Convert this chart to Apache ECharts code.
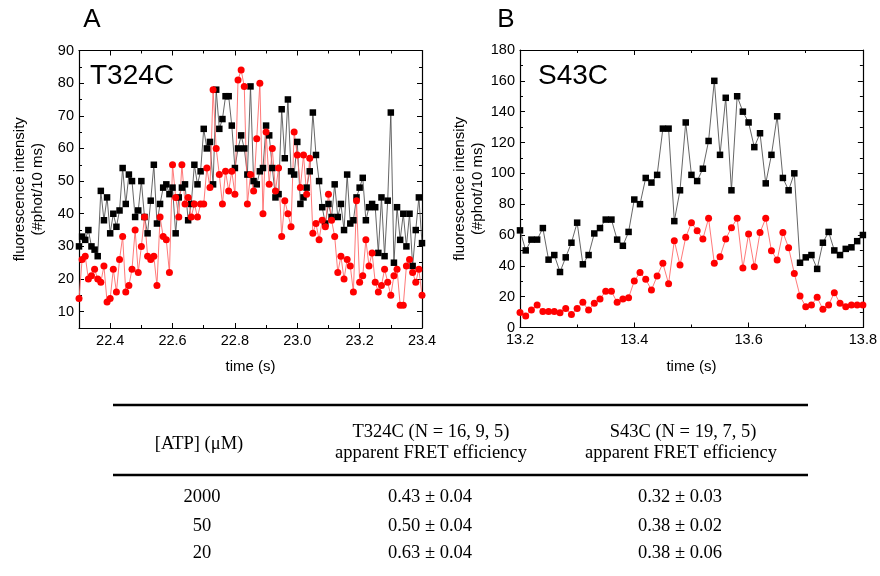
<!DOCTYPE html>
<html><head><meta charset="utf-8">
<script src="https://cdn.jsdelivr.net/npm/echarts@6/dist/echarts.min.js"></script>
<style>html,body{margin:0;padding:0;background:#fff}#c{width:880px;height:576px}</style>
</head><body><div id="c"></div><script>
// ---- Panel A (T324C) ----
const aStart = 22.30, aStep = 0.01;
const aBlack = [30,33,32,35,30,29,27,47,38,45,
34,40,36,41,54,43,52,50,39,41,
50,39,34,44,55,37,43,48,49,46,
48,34,45,48,49,38,43,55,49,53,
66,60,62,49,78,66,69,76,76,67,
54,60,64,60,52,79,50,49,53,54,
67,64,54,45,46,72,57,75,53,52,
62,43,45,48,53,71,58,50,42,37,
43,39,49,39,43,35,52,37,38,45,
48,51,38,42,43,42,28,45,27,44,
71,25,42,32,40,30,40,24,35,45,31];
const aRed = [14,26,27,20,21,23,20,19,24,13,
14,23,16,26,33,16,18,23,35,22,
30,39,27,26,27,18,39,33,32,22,
55,45,39,55,43,45,39,43,39,43,
43,54,48,78,60,52,43,53,47,53,
46,81,84,79,43,52,47,63,80,40,
65,49,60,47,54,33,44,40,36,65,
58,48,58,46,57,34,37,32,38,36,
46,38,33,22,27,20,26,24,16,44,
19,21,32,24,28,19,16,18,23,19,
15,21,23,12,12,24,26,22,19,23,15];
// ---- Panel B (S43C) ----
const bStart = 13.20, bStep = 0.01;
const bBlack = [63,50,57,57,64.5,44,47,36,45.5,55,
68,41,47,61,64.5,70,70,57,53,62,
83,80,97,94,99,129,129,69,89,133,
99,95,103,121,160,112,149,89,150,140,
133,117,126,93.5,112,137,97,89,100,42,
45.5,47,38,55,62,50,47,51,52,56,60];
const bRed = [9.8,7.5,11.3,14.6,10.3,10.3,10.3,9.6,12.4,8.5,
12.4,16.3,11.3,15.7,18.5,23.5,23.5,16.3,18.5,19.3,
30.2,35.6,31.3,24.3,33.4,41.6,28.4,56.3,40.5,58.5,
68,62.8,57.4,70.8,41.6,45.9,57.4,64.7,70.8,38.6,
60.6,39.4,61.7,70.8,49.8,43.8,61.7,51.8,35.1,20.4,
13.5,14.6,19.6,11.8,14.6,22.6,15.7,13.5,14.6,14.6,14.6];
// ---- ticks ----
const aXRange = [22.3, 23.4], aYRange = [5, 90];
const bXRange = [13.2, 13.8], bYRange = [0, 180];
const aXMajor = [22.4,22.6,22.8,23.0,23.2,23.4];
const aXMinor = [22.3,22.5,22.7,22.9,23.1,23.3];
const aYMajor = [10,20,30,40,50,60,70,80,90];
const aYMinor = [15,25,35,45,55,65,75,85];
const bXMajor = [13.2,13.4,13.6,13.8];
const bXMinor = [13.3,13.5,13.7];
const bYMajor = [0,20,40,60,80,100,120,140,160,180];
const bYMinor = [10,30,50,70,90,110,130,150,170];
// ---- texts ----
const panelLetters = ['A','B'];
const panelNames = ['T324C','S43C'];
const xName = 'time (s)';
const yName = 'fluorescence intensity\n(#phot/10 ms)';
const tableHead = ['[ATP] (\u03bcM)', 'T324C (N = 16, 9, 5)', 'apparent FRET efficiency', 'S43C (N = 19, 7, 5)', 'apparent FRET efficiency'];
const atpConc = ['2000','50','20'];
const fretT324C = ['0.43 \u00b1 0.04','0.50 \u00b1 0.04','0.63 \u00b1 0.04'];
const fretS43C = ['0.32 \u00b1 0.03','0.38 \u00b1 0.02','0.38 \u00b1 0.06'];

const SANS = '"Liberation Sans", Arial, sans-serif';
const SERIF = '"Liberation Serif", "Times New Roman", serif';

function pairs(start, step, vals){ return vals.map((v,i)=>[+(start+i*step).toFixed(4), v]); }

function mkAxis(dim, grid, pos, range, ticks, len, opts){
  const o = {
    type:'value', gridIndex:grid, position:pos, min:range[0], max:range[1],
    axisLine:{show:!!(opts&&opts.line), onZero:false, lineStyle:{color:'#000', width:1.2}},
    axisTick:{show:true, inside:true, length:len, customValues:ticks, lineStyle:{color:'#000', width:1}},
    axisLabel:{show:false},
    splitLine:{show:false},
    silent:true
  };
  if (opts && opts.labels){
    o.axisLabel = {show:true, customValues:opts.labels, formatter:opts.fmt, margin:opts.margin, color:'#000', fontSize:14.5, fontFamily:SANS, showMinLabel:true, showMaxLabel:true};
  }
  if (opts && opts.name){
    o.name = opts.name; o.nameLocation='middle'; o.nameGap=opts.nameGap;
    o.nameTextStyle = {color:'#000', fontSize:15, fontFamily:SANS, lineHeight:18};
    if (dim==='y') o.nameRotate = 90;
  }
  return o;
}
const fx1 = v => v.toFixed(1);
const fx0 = v => String(Math.round(v));

const xAxis = [
  mkAxis('x',0,'bottom',aXRange,aXMajor,5,{line:true,labels:aXMajor,fmt:fx1,margin:5,name:xName,nameGap:30}),
  mkAxis('x',0,'bottom',aXRange,aXMinor,3),
  mkAxis('x',0,'top',aXRange,aXMajor,5,{line:true}),
  mkAxis('x',0,'top',aXRange,aXMinor,3),
  mkAxis('x',1,'bottom',bXRange,bXMajor,5,{line:true,labels:bXMajor,fmt:fx1,margin:5,name:xName,nameGap:30}),
  mkAxis('x',1,'bottom',bXRange,bXMinor,3),
  mkAxis('x',1,'top',bXRange,bXMajor,5,{line:true}),
  mkAxis('x',1,'top',bXRange,bXMinor,3)
];
const yAxis = [
  mkAxis('y',0,'left',aYRange,aYMajor,5,{line:true,labels:aYMajor,fmt:fx0,margin:5,name:yName,nameGap:32}),
  mkAxis('y',0,'left',aYRange,aYMinor,3),
  mkAxis('y',0,'right',aYRange,aYMajor,5,{line:true}),
  mkAxis('y',0,'right',aYRange,aYMinor,3),
  mkAxis('y',1,'left',bYRange,bYMajor,5,{line:true,labels:bYMajor,fmt:fx0,margin:5,name:yName,nameGap:33}),
  mkAxis('y',1,'left',bYRange,bYMinor,3),
  mkAxis('y',1,'right',bYRange,bYMajor,5,{line:true}),
  mkAxis('y',1,'right',bYRange,bYMinor,3)
];

function ser(xi, yi, data, color, lineColor, symbol, size){
  return {type:'line', xAxisIndex:xi, yAxisIndex:yi, data:data, symbol:symbol, symbolSize:size,
    showSymbol:true, showAllSymbol:true, clip:true,
    lineStyle:{color:lineColor, width:0.9}, itemStyle:{color:color, borderWidth:0}, silent:true};
}

const graphic = [
  {type:'text', x:92, y:20, style:{text:panelLetters[0], font:'26px '+SANS, fill:'#000', textAlign:'center', textVerticalAlign:'middle'}},
  {type:'text', x:506, y:20, style:{text:panelLetters[1], font:'26px '+SANS, fill:'#000', textAlign:'center', textVerticalAlign:'middle'}},
  {type:'text', x:90, y:76, style:{text:panelNames[0], font:'28px '+SANS, fill:'#000', textAlign:'left', textVerticalAlign:'middle'}},
  {type:'text', x:538, y:76, style:{text:panelNames[1], font:'28px '+SANS, fill:'#000', textAlign:'left', textVerticalAlign:'middle'}},
  {type:'line', shape:{x1:113,y1:405,x2:808,y2:405}, style:{stroke:'#000', lineWidth:2.5}},
  {type:'line', shape:{x1:113,y1:475,x2:808,y2:475}, style:{stroke:'#000', lineWidth:2.5}},
  {type:'text', x:199, y:444, style:{text:tableHead[0], font:'18.5px '+SERIF, fill:'#000', textAlign:'center', textVerticalAlign:'middle'}},
  {type:'text', x:431, y:432, style:{text:tableHead[1], font:'18.5px '+SERIF, fill:'#000', textAlign:'center', textVerticalAlign:'middle'}},
  {type:'text', x:431, y:453, style:{text:tableHead[2], font:'18.5px '+SERIF, fill:'#000', textAlign:'center', textVerticalAlign:'middle'}},
  {type:'text', x:683, y:432, style:{text:tableHead[3], font:'18.5px '+SERIF, fill:'#000', textAlign:'center', textVerticalAlign:'middle'}},
  {type:'text', x:681, y:453, style:{text:tableHead[4], font:'18.5px '+SERIF, fill:'#000', textAlign:'center', textVerticalAlign:'middle'}}
];
const rowY = [497, 526, 553];
atpConc.forEach((t,i)=>{
  graphic.push({type:'text', x:202, y:rowY[i], style:{text:t, font:'18.5px '+SERIF, fill:'#000', textAlign:'center', textVerticalAlign:'middle'}});
  graphic.push({type:'text', x:430, y:rowY[i], style:{text:fretT324C[i], font:'18.5px '+SERIF, fill:'#000', textAlign:'center', textVerticalAlign:'middle'}});
  graphic.push({type:'text', x:680, y:rowY[i], style:{text:fretS43C[i], font:'18.5px '+SERIF, fill:'#000', textAlign:'center', textVerticalAlign:'middle'}});
});

const chart = echarts.init(document.getElementById('c'), null, {renderer:'canvas'});
chart.setOption({
  animation:false,
  backgroundColor:'#fff',
  grid:[
    {left:79, top:50.5, width:343, height:277.5, containLabel:false},
    {left:520, top:50, width:343, height:277.5, containLabel:false}
  ],
  xAxis:xAxis,
  yAxis:yAxis,
  series:[
    ser(0,0,pairs(aStart,aStep,aBlack),'#000','#555','rect',6.5),
    ser(0,0,pairs(aStart,aStep,aRed),'#ff0000','#ff6a6a','circle',7),
    ser(4,4,pairs(bStart,bStep,bBlack),'#000','#555','rect',6.5),
    ser(4,4,pairs(bStart,bStep,bRed),'#ff0000','#ff6a6a','circle',7)
  ],
  graphic:graphic
});
</script></body></html>
